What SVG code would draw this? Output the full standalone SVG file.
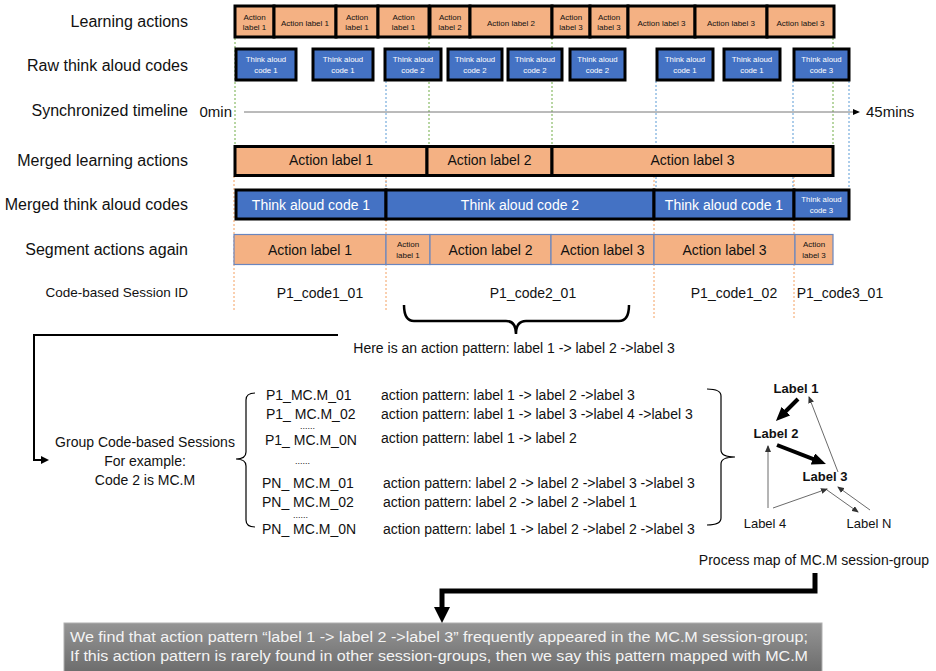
<svg xmlns="http://www.w3.org/2000/svg" width="936" height="671" viewBox="0 0 936 671">
<style>
text{font-family:"Liberation Sans",Arial,sans-serif;fill:#111}
.row{font-size:16px;text-anchor:end}
.ab rect{fill:#F4B183;stroke:#000;stroke-width:3}
.tb rect{fill:#4472C4;stroke:#000;stroke-width:3}
.sb rect{fill:#F4B183;stroke:#6A86BE;stroke-width:1.2}
.s8{font-size:8px;text-anchor:middle}
.w8{font-size:7.8px;text-anchor:middle;fill:#fff}
.m14{font-size:14px;text-anchor:middle}
.w14{font-size:14px;text-anchor:middle;fill:#fff}
.t14{font-size:14px}
.c14{font-size:14px;text-anchor:middle}
.pl{font-size:13px;text-anchor:middle}
.plb{font-size:13px;text-anchor:middle;font-weight:bold}
.dg{stroke:#70AD47;stroke-width:1;stroke-dasharray:2 2;fill:none}
.db{stroke:#5B9BD5;stroke-width:1;stroke-dasharray:2 2;fill:none}
.do{stroke:#F4A060;stroke-width:1;stroke-dasharray:2 2;fill:none}
.thin{stroke:#444;stroke-width:0.8;fill:none}
.thick{stroke:#000;stroke-width:4;fill:none}
</style>
<defs>
<marker id="mThin" markerUnits="userSpaceOnUse" markerWidth="7" markerHeight="6" viewBox="0 0 7 6" refX="6" refY="3" orient="auto"><path d="M0,0 L7,3 L0,6 z" fill="#333"/></marker>
<marker id="mThick" markerUnits="userSpaceOnUse" markerWidth="14" markerHeight="12" viewBox="0 0 14 12" refX="4" refY="6" orient="auto"><path d="M0,0 L14,6 L0,12 z" fill="#000"/></marker>
<marker id="mMid" markerUnits="userSpaceOnUse" markerWidth="8" markerHeight="8" viewBox="0 0 8 8" refX="2" refY="4" orient="auto"><path d="M0,0 L8,4 L0,8 z" fill="#000"/></marker>
<marker id="mBig" markerUnits="userSpaceOnUse" markerWidth="16" markerHeight="16" viewBox="0 0 16 16" refX="2" refY="8" orient="auto"><path d="M0,0 L16,8 L0,16 z" fill="#000"/></marker>
<linearGradient id="gray" x1="0" y1="0" x2="0" y2="1"><stop offset="0" stop-color="#959595"/><stop offset="1" stop-color="#6c6c6c"/></linearGradient>
</defs>

<g id="row-labels">
<text class="row" x="188" y="27">Learning actions</text>
<text class="row" x="188" y="71">Raw think aloud codes</text>
<text class="row" x="188" y="116">Synchronized timeline</text>
<text class="row" x="188" y="166">Merged learning actions</text>
<text class="row" x="188" y="210">Merged think aloud codes</text>
<text class="row" x="188" y="255">Segment actions again</text>
<text x="188" y="297" style="font-size:13.5px;text-anchor:end">Code-based Session ID</text>
</g>

<g id="guides">
<path class="dg" d="M235,38V145M429,38V145M552,38V145M833,38V145"/>
<path class="db" d="M386,81V189M656,81V189M793,81V189M849,81V189"/>
<path class="do" d="M234,176V312M386,176V312M654,176V318M794,176V318"/>
</g>

<g id="learning-actions" class="ab">
<rect x="235" y="6" width="39" height="31"/><text class="s8" x="254.5" y="20">Action</text><text class="s8" x="254.5" y="30">label 1</text>
<rect x="274" y="6" width="62" height="31"/><text class="s8" x="305" y="25.5">Action label 1</text>
<rect x="336" y="6" width="42" height="31"/><text class="s8" x="357" y="20">Action</text><text class="s8" x="357" y="30">label 1</text>
<rect x="378" y="6" width="51" height="31"/><text class="s8" x="403.5" y="20">Action</text><text class="s8" x="403.5" y="30">label 1</text>
<rect x="430" y="6" width="40" height="31"/><text class="s8" x="450" y="20">Action</text><text class="s8" x="450" y="30">label 2</text>
<rect x="470" y="6" width="82" height="31"/><text class="s8" x="511" y="25.5">Action label 2</text>
<rect x="552" y="6" width="38" height="31"/><text class="s8" x="571" y="20">Action</text><text class="s8" x="571" y="30">label 3</text>
<rect x="590" y="6" width="38" height="31"/><text class="s8" x="609" y="20">Action</text><text class="s8" x="609" y="30">label 3</text>
<rect x="628" y="6" width="67" height="31"/><text class="s8" x="661.5" y="25.5">Action label 3</text>
<rect x="695" y="6" width="72" height="31"/><text class="s8" x="731" y="25.5">Action label 3</text>
<rect x="767" y="6" width="67" height="31"/><text class="s8" x="800.5" y="25.5">Action label 3</text>
</g>

<g id="raw-think-aloud" class="tb">
<rect x="236" y="49" width="60" height="31"/><text class="w8" x="266" y="62">Think aloud</text><text class="w8" x="266" y="73">code 1</text>
<rect x="313" y="49" width="60" height="31"/><text class="w8" x="343" y="62">Think aloud</text><text class="w8" x="343" y="73">code 1</text>
<rect x="385" y="49" width="56" height="31"/><text class="w8" x="413" y="62">Think aloud</text><text class="w8" x="413" y="73">code 2</text>
<rect x="448" y="49" width="54" height="31"/><text class="w8" x="475" y="62">Think aloud</text><text class="w8" x="475" y="73">code 2</text>
<rect x="508" y="49" width="54" height="31"/><text class="w8" x="535" y="62">Think aloud</text><text class="w8" x="535" y="73">code 2</text>
<rect x="570" y="49" width="55" height="31"/><text class="w8" x="597.5" y="62">Think aloud</text><text class="w8" x="597.5" y="73">code 2</text>
<rect x="657" y="49" width="56" height="31"/><text class="w8" x="685" y="62">Think aloud</text><text class="w8" x="685" y="73">code 1</text>
<rect x="724" y="49" width="56" height="31"/><text class="w8" x="752" y="62">Think aloud</text><text class="w8" x="752" y="73">code 1</text>
<rect x="794" y="49" width="55" height="31"/><text class="w8" x="821.5" y="62">Think aloud</text><text class="w8" x="821.5" y="73">code 3</text>
</g>

<g id="timeline">
<text x="232" y="117" style="font-size:15px;text-anchor:end">0min</text>
<line x1="244" y1="112" x2="853" y2="112" stroke="#777" stroke-width="1"/>
<path d="M853,109 L860,112 L853,115 z" fill="#000"/>
<text x="866" y="117" style="font-size:15px">45mins</text>
</g>

<g id="merged-learning" class="ab">
<rect x="235" y="146.5" width="192" height="29"/><text class="m14" x="331" y="165">Action label 1</text>
<rect x="427" y="146.5" width="125" height="29"/><text class="m14" x="489.5" y="165">Action label 2</text>
<rect x="552" y="146.5" width="281" height="29"/><text class="m14" x="692.5" y="165">Action label 3</text>
</g>

<g id="merged-think-aloud" class="tb">
<rect x="236" y="190" width="150" height="29"/><text class="w14" x="311" y="210">Think aloud code 1</text>
<rect x="386" y="190" width="268" height="29"/><text class="w14" x="520" y="210">Think aloud code 2</text>
<rect x="654" y="190" width="140" height="29"/><text class="w14" x="724" y="210">Think aloud code 1</text>
<rect x="794" y="190" width="55" height="29"/><text class="w8" x="821.5" y="202">Think aloud</text><text class="w8" x="821.5" y="213">code 3</text>
</g>

<g id="segment-actions" class="sb">
<rect x="234" y="234.5" width="152" height="30"/><text class="m14" x="310" y="255">Action label 1</text>
<rect x="386" y="234.5" width="44" height="30"/><text class="s8" x="408" y="247">Action</text><text class="s8" x="408" y="258">label 1</text>
<rect x="430" y="234.5" width="121" height="30"/><text class="m14" x="490.5" y="255">Action label 2</text>
<rect x="551" y="234.5" width="103" height="30"/><text class="m14" x="602.5" y="255">Action label 3</text>
<rect x="654" y="234.5" width="141" height="30"/><text class="m14" x="724.5" y="255">Action label 3</text>
<rect x="795" y="234.5" width="38" height="30"/><text class="s8" x="814" y="247">Action</text><text class="s8" x="814" y="258">label 3</text>
</g>

<g id="session-ids">
<text class="c14" x="320" y="298">P1_code1_01</text>
<text class="c14" x="533" y="298">P1_code2_01</text>
<text class="c14" x="734" y="298">P1_code1_02</text>
<text class="c14" x="840" y="298">P1_code3_01</text>
</g>

<g id="pattern-note">
<text class="c14" x="514" y="353">Here is an action pattern: label 1 -&gt; label 2 -&gt;label 3</text>
</g>

<g id="group-label">
<text class="c14" x="145" y="447">Group Code-based Sessions</text>
<text class="c14" x="145" y="466">For example:</text>
<text class="c14" x="145" y="485">Code 2 is MC.M</text>
</g>

<g id="session-list">
<text class="t14" x="266" y="400">P1_MC.M_01</text>
<text class="t14" x="266" y="419">P1_ MC.M_02</text>
<text x="300" y="429" style="font-size:9px">......</text>
<text class="t14" x="265" y="445">P1_ MC.M_0N</text>
<text x="295" y="464" style="font-size:9px">......</text>
<text class="t14" x="262" y="488">PN_ MC.M_01</text>
<text class="t14" x="262" y="507">PN_ MC.M_02</text>
<text x="293" y="518" style="font-size:9px">......</text>
<text class="t14" x="262" y="534">PN_ MC.M_0N</text>
</g>

<g id="pattern-list">
<text class="t14" x="381" y="400">action pattern: label 1 -&gt; label 2 -&gt;label 3</text>
<text class="t14" x="381" y="419">action pattern: label 1 -&gt; label 3 -&gt;label 4 -&gt;label 3</text>
<text class="t14" x="381" y="443">action pattern: label 1 -&gt; label 2</text>
<text class="t14" x="383" y="488">action pattern: label 2 -&gt; label 2 -&gt;label 3 -&gt;label 3</text>
<text class="t14" x="383" y="507">action pattern: label 2 -&gt; label 2 -&gt;label 1</text>
<text class="t14" x="383" y="534">action pattern: label 1 -&gt; label 2 -&gt;label 2 -&gt;label 3</text>
</g>

<g id="process-map">
<g id="pm-label1"><text class="plb" x="796" y="393">Label 1</text></g>
<g id="pm-label2"><text class="plb" x="776" y="438">Label 2</text></g>
<g id="pm-label3"><text class="plb" x="825" y="481">Label 3</text></g>
<g id="pm-label4"><text class="pl" x="765" y="528">Label 4</text></g>
<g id="pm-labelN"><text class="pl" x="869" y="528">Label N</text></g>
<text class="c14" x="814" y="565">Process map of MC.M session-group</text>
</g>

<g id="summary">
<rect x="64" y="623" width="758" height="50" fill="url(#gray)" stroke="#b0b0b0" stroke-width="1"/>
<text x="70" y="642" style="font-size:15.5px;fill:#f4f4f4" textLength="738" lengthAdjust="spacingAndGlyphs">We find that action pattern “label 1 -&gt; label 2 -&gt;label 3” frequently appeared in the MC.M session-group;</text>
<text x="70" y="661" style="font-size:15.5px;fill:#f4f4f4" textLength="738" lengthAdjust="spacingAndGlyphs">If this action pattern is rarely found in other session-groups, then we say this pattern mapped with MC.M</text>
</g>

<g id="connectors">
<path d="M404,305 Q404,321 414,321 L506,321 Q516,321 516,334 Q516,321 526,321 L619,321 Q629,321 629,305" fill="none" stroke="#000" stroke-width="2.5"/>
<path d="M338,335 H34 V460 H43" fill="none" stroke="#000" stroke-width="2" marker-end="url(#mMid)"/>
<path d="M255,393 Q246,393 246,400 L246,452 Q246,459 236,459 Q246,459 246,466 L246,520 Q246,527 255,527" fill="none" stroke="#000" stroke-width="1.2"/>
<path d="M707,389 Q721,389 721,396 L721,450 Q721,457 735,457 Q721,457 721,464 L721,518 Q721,525 707,525" fill="none" stroke="#000" stroke-width="1.2"/>
<line class="thick" x1="798" y1="399" x2="783" y2="414" marker-end="url(#mThick)"/>
<line class="thick" x1="777" y1="445" x2="816.6" y2="460.4" marker-end="url(#mThick)"/>
<line class="thin" x1="838" y1="472" x2="809" y2="397" marker-end="url(#mThin)"/>
<line class="thin" x1="768" y1="508" x2="768" y2="446" marker-end="url(#mThin)"/>
<line class="thin" x1="773" y1="508" x2="827" y2="489" marker-end="url(#mThin)"/>
<line class="thin" x1="827" y1="490" x2="858" y2="512" marker-end="url(#mThin)"/>
<line class="thin" x1="870" y1="510" x2="838" y2="487" marker-end="url(#mThin)"/>
<path d="M815,573 V591 H442 V609" fill="none" stroke="#000" stroke-width="5" marker-end="url(#mBig)"/>
</g>
</svg>
